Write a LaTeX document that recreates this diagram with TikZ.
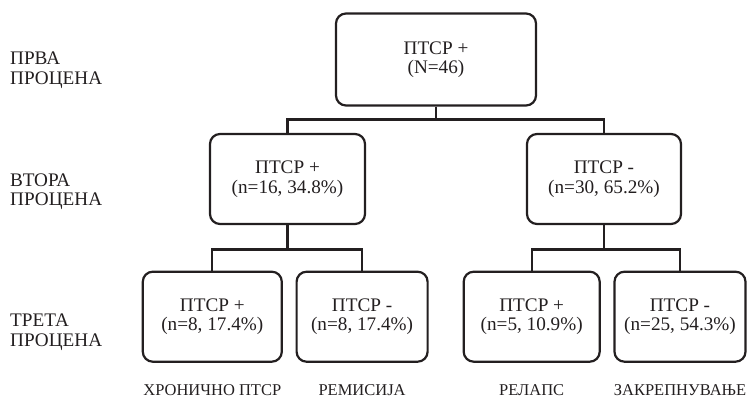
\documentclass[tikz,border=0pt]{standalone}
\usepackage{fontspec}
\setmainfont{Liberation Serif}
\usetikzlibrary{positioning}
\definecolor{ink}{RGB}{35,31,32}

\begin{document}
\begin{tikzpicture}[x=1pt,y=-1pt,
    box/.style={draw=ink,line width=2.2pt,rounded corners=10pt,align=center,text=ink,
        minimum height=90pt,inner sep=0pt,font=\fontsize{19.2}{19.5}\selectfont},
    stage/.style={anchor=north west,align=left,inner sep=0pt,text=ink,
        font=\fontsize{19.2}{19.5}\selectfont},
    outcome/.style={inner sep=0pt,text=ink,font=\fontsize{16.5}{16.5}\selectfont},
    link/.style={draw=ink,line width=2.2pt}]
\useasboundingbox (0,0) rectangle (747,399);

% First assessment
\node[box,minimum width=200pt,minimum height=92pt] (p1) at (436,59.5) {ПТСР +\\(N=46)};

% Second assessment
\node[box,minimum width=155pt] (v1) at (287.5,179) {ПТСР +\\(n=16, 34.8\%)};
\node[box,minimum width=154pt] (v2) at (604,179) {ПТСР -\\(n=30, 65.2\%)};

% Third assessment
\node[box,minimum width=139pt] (t1) at (212.3,316.7) {ПТСР +\\(n=8, 17.4\%)};
\node[box,minimum width=131pt] (t2) at (362.1,316.7) {ПТСР -\\(n=8, 17.4\%)};
\node[box,minimum width=136pt] (t3) at (531.7,316.7) {ПТСР +\\(n=5, 10.9\%)};
\node[box,minimum width=131pt] (t4) at (680,316.7) {ПТСР -\\(n=25, 54.3\%)};

% Stage labels
\node[stage] (s1) at (10,51.7) {ПРВА\\ПРОЦЕНА};
\node[stage] (s2) at (10,173.3) {ВТОРА\\ПРОЦЕНА};
\node[stage] (s3) at (10,314) {ТРЕТА\\ПРОЦЕНА};

% Outcomes
\node[outcome,below=21.5pt of t1] (o1) {ХРОНИЧНО ПТСР};
\node[outcome,below=21.5pt of t2] (o2) {РЕМИСИЈА};
\node[outcome,below=21.5pt of t3] (o3) {РЕЛАПС};
\node[outcome,below=21.5pt of t4] (o4) {ЗАКРЕПНУВАЊЕ};

% Tree lines
\draw[link] (p1.south) -- ++(0,12.8) -| (v1.north);
\draw[link] (p1.south) -- ++(0,12.8) -| (v2.north);
\foreach \a/\b in {v1/t1,v1/t2,v2/t3,v2/t4} {
    \draw[link] (\a.south) -- ++(0,24.4) -| (\b.north);
}
\end{tikzpicture}
\end{document}
